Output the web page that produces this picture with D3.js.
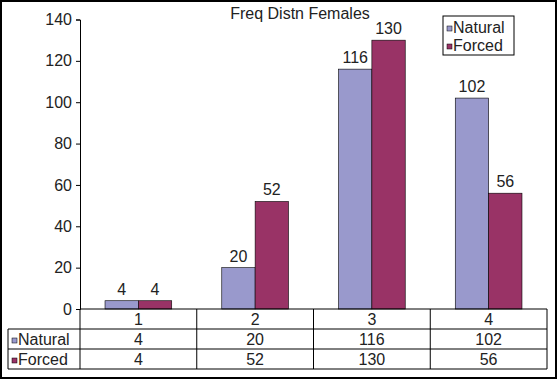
<!DOCTYPE html>
<html lang="en">
<head>
    <meta charset="UTF-8">
    <title>Freq Distn Females</title>
    <script src="https://d3js.org/d3.v7.min.js"></script>
    <style>
        body { margin: 0; background: #fff; }
        svg text { font-family: Arial, "Liberation Sans", sans-serif; fill: #222; }
    </style>
</head>
<body>
    <div id="chart"></div>
    <script>
        const categories = ["1", "2", "3", "4"];
        const seriesNames = ["Natural", "Forced"];
        const naturalValues = [4, 20, 116, 102];
        const forcedValues = [4, 52, 130, 56];
        const yTicks = [0, 20, 40, 60, 80, 100, 120, 140];

        const colors = { Natural: "#9999cc", Forced: "#993366" };
        const series = [
            { name: "Natural", values: naturalValues },
            { name: "Forced", values: forcedValues }
        ];

        const width = 557;
        const height = 379;
        const plot = { left: 80, right: 547, top: 19.5, bottom: 309 };
        const tableLeft = 8;
        const rowH = 20;
        const fs = "16px";

        const svg = d3.select("#chart")
            .append("svg")
            .attr("width", width)
            .attr("height", height);

        svg.append("rect")
            .attr("x", 1).attr("y", 1)
            .attr("width", width - 2).attr("height", height - 2)
            .attr("fill", "#fff")
            .attr("stroke", "#000")
            .attr("stroke-width", 2);

        const x = d3.scaleBand()
            .domain(categories)
            .range([plot.left, plot.right]);

        const xInner = d3.scaleBand()
            .domain(seriesNames)
            .range([0, x.bandwidth()])
            .paddingInner(0)
            .paddingOuter(0.75);

        const y = d3.scaleLinear()
            .domain([0, 140])
            .range([plot.bottom, plot.top]);

        // y axis
        const yAxis = svg.append("g")
            .attr("transform", `translate(${plot.left},0)`)
            .call(d3.axisLeft(y).tickValues(yTicks).tickSize(4).tickPadding(4));
        yAxis.select(".domain").attr("stroke", "#000");
        yAxis.selectAll(".tick line").attr("stroke", "#000");
        yAxis.selectAll("text").style("font-size", fs).attr("fill", "#222");

        // bars
        const groups = svg.selectAll("g.cat")
            .data(categories)
            .join("g")
            .attr("class", "cat")
            .attr("transform", d => `translate(${x(d)},0)`);

        groups.selectAll("rect")
            .data((d, i) => series.map(s => ({ name: s.name, value: s.values[i] })))
            .join("rect")
            .attr("x", d => xInner(d.name))
            .attr("y", d => y(d.value))
            .attr("width", xInner.bandwidth())
            .attr("height", d => y(0) - y(d.value))
            .attr("fill", d => colors[d.name])
            .attr("stroke", "#000")
            .attr("stroke-width", 0.6);

        groups.selectAll("text.lbl")
            .data((d, i) => series.map(s => ({ name: s.name, value: s.values[i] })))
            .join("text")
            .attr("class", "lbl")
            .attr("x", d => xInner(d.name) + xInner.bandwidth() / 2)
            .attr("y", d => y(d.value) - 6)
            .attr("text-anchor", "middle")
            .style("font-size", fs)
            .text(d => d.value);

        // x axis line
        svg.append("line")
            .attr("x1", plot.left).attr("x2", plot.right)
            .attr("y1", plot.bottom).attr("y2", plot.bottom)
            .attr("stroke", "#000");

        // data table
        const tbl = svg.append("g").attr("stroke", "#000").attr("stroke-width", 1);
        const tableBottom = plot.bottom + rowH * 3;
        [1, 2, 3].forEach(r => {
            tbl.append("line")
                .attr("x1", tableLeft).attr("x2", plot.right)
                .attr("y1", plot.bottom + rowH * r).attr("y2", plot.bottom + rowH * r);
        });
        tbl.append("line")
            .attr("x1", tableLeft).attr("x2", tableLeft)
            .attr("y1", plot.bottom + rowH).attr("y2", tableBottom);
        const vlines = categories.map(c => x(c)).concat([plot.right]);
        tbl.selectAll("line.v")
            .data(vlines)
            .join("line")
            .attr("class", "v")
            .attr("x1", d => d).attr("x2", d => d)
            .attr("y1", plot.bottom).attr("y2", tableBottom);

        // category labels
        svg.selectAll("text.cat")
            .data(categories)
            .join("text")
            .attr("class", "cat")
            .attr("x", d => x(d) + x.bandwidth() / 2)
            .attr("y", plot.bottom + rowH - 4)
            .attr("text-anchor", "middle")
            .style("font-size", fs)
            .text(d => d);

        series.forEach((s, si) => {
            const rowY = plot.bottom + rowH * (si + 1);
            svg.append("rect")
                .attr("x", tableLeft + 4)
                .attr("y", rowY + 9)
                .attr("width", 5).attr("height", 5)
                .attr("fill", colors[s.name])
                .attr("stroke", "#000")
                .attr("stroke-width", 0.5);
            svg.append("text")
                .attr("x", tableLeft + 10)
                .attr("y", rowY + rowH - 4)
                .style("font-size", fs)
                .text(s.name);
            svg.selectAll(null)
                .data(s.values)
                .join("text")
                .attr("x", (d, i) => x(categories[i]) + x.bandwidth() / 2)
                .attr("y", rowY + rowH - 4)
                .attr("text-anchor", "middle")
                .style("font-size", fs)
                .text(d => d);
        });

        // title
        svg.append("text")
            .attr("x", 300)
            .attr("y", 19)
            .attr("text-anchor", "middle")
            .style("font-size", fs)
            .text("Freq Distn Females");

        // legend
        const legend = svg.append("g").attr("transform", "translate(443,16)");
        legend.append("rect")
            .attr("width", 71).attr("height", 39)
            .attr("fill", "#fff")
            .attr("stroke", "#000");
        seriesNames.forEach((name, i) => {
            legend.append("rect")
                .attr("x", 4).attr("y", 10 + i * 18)
                .attr("width", 5).attr("height", 5)
                .attr("fill", colors[name])
                .attr("stroke", "#000")
                .attr("stroke-width", 0.5);
            legend.append("text")
                .attr("x", 10).attr("y", 17 + i * 18)
                .style("font-size", fs)
                .text(name);
        });
    </script>
</body>
</html>
